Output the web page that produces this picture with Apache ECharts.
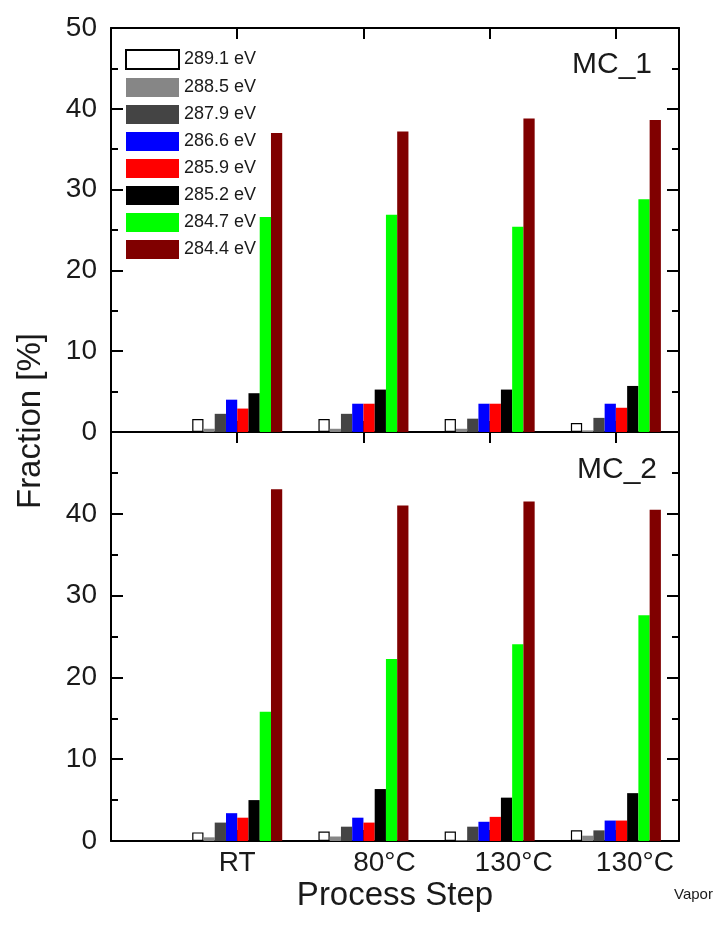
<!DOCTYPE html>
<html>
<head>
<meta charset="utf-8">
<script src="https://cdn.jsdelivr.net/npm/echarts@6/dist/echarts.min.js"></script>
<style>
  html, body { margin: 0; padding: 0; background: #ffffff; }
  #chart { width: 718px; height: 925px; }
</style>
</head>
<body>
<div id="chart"></div>
<script>
// Binding-energy components (legend order)
const energies = ['289.1 eV', '288.5 eV', '287.9 eV', '286.6 eV', '285.9 eV', '285.2 eV', '284.7 eV', '284.4 eV'];

// Process steps on the x axis
const steps = ['RT', '80°C', '130°C', '130°C'];
const stepSubs = ['', '', '', 'Vapor'];
const stepPos = [1, 2, 3, 4];

// MC_1 fractions [%] per component, one value per process step
const mc1_2891 = [1.6, 1.6, 1.6, 1.1];
const mc1_2885 = [0.4, 0.4, 0.4, 0.2];
const mc1_2879 = [2.25, 2.25, 1.65, 1.75];
const mc1_2866 = [4.0, 3.5, 3.5, 3.5];
const mc1_2859 = [2.9, 3.5, 3.5, 3.0];
const mc1_2852 = [4.8, 5.25, 5.25, 5.7];
const mc1_2847 = [26.6, 26.9, 25.4, 28.8];
const mc1_2844 = [37.0, 37.2, 38.8, 38.6];

// MC_2 fractions [%]
const mc2_2891 = [1.05, 1.15, 1.15, 1.3];
const mc2_2885 = [0.45, 0.55, 0.1, 0.65];
const mc2_2879 = [2.25, 1.75, 1.75, 1.3];
const mc2_2866 = [3.4, 2.85, 2.35, 2.5];
const mc2_2859 = [2.85, 2.25, 2.95, 2.5];
const mc2_2852 = [5.0, 6.35, 5.3, 5.85];
const mc2_2847 = [15.8, 22.25, 24.05, 27.6];
const mc2_2844 = [43.0, 41.0, 41.5, 40.5];

const mc1Sets = [mc1_2891, mc1_2885, mc1_2879, mc1_2866, mc1_2859, mc1_2852, mc1_2847, mc1_2844];
const mc2Sets = [mc2_2891, mc2_2885, mc2_2879, mc2_2866, mc2_2859, mc2_2852, mc2_2847, mc2_2844];

const barColors = ['#ffffff', '#868686', '#444444', '#0000ff', '#ff0000', '#000000', '#00ff00', '#800000'];

const FONT = '"Liberation Sans", Arial, sans-serif';
const INK = '#1a1a1a';

// horizontal shift of each step name relative to its tick, given as left padding (px)
const labelPad = [0, 42, 48, 77];

const axisLine = { show: true, onZero: false, lineStyle: { color: '#000', width: 2 } };

function xAxisFor(gridIndex, position, showLabels) {
  return {
    type: 'value', gridIndex, position,
    min: 0, max: 4.5, interval: 1,
    axisLine,
    axisTick: { show: true, inside: true, length: 11, lineStyle: { color: '#000', width: 2 } },
    splitLine: { show: false },
    axisLabel: showLabels ? {
      show: true, margin: 8, color: INK, fontFamily: FONT, fontSize: 28,
      formatter: function (v) {
        const k = stepPos.indexOf(v);
        if (k < 0) return '';
        let s = '{m' + k + '|' + steps[k] + '}';
        if (stepSubs[k]) s += '{s|' + stepSubs[k] + '}';
        return s;
      },
      rich: {
        m0: { fontSize: 28, fontFamily: FONT, color: INK, verticalAlign: 'top', padding: [0, 0, 0, labelPad[0]] },
        m1: { fontSize: 28, fontFamily: FONT, color: INK, verticalAlign: 'top', padding: [0, 0, 0, labelPad[1]] },
        m2: { fontSize: 28, fontFamily: FONT, color: INK, verticalAlign: 'top', padding: [0, 0, 0, labelPad[2]] },
        m3: { fontSize: 28, fontFamily: FONT, color: INK, verticalAlign: 'top', padding: [0, 0, 0, labelPad[3]] },
        s: { fontSize: 15, fontFamily: FONT, color: INK, verticalAlign: 'top', padding: [38, 0, 0, 0] }
      }
    } : { show: false }
  };
}

function yAxisFor(gridIndex, position, labelFormatter) {
  return {
    type: 'value', gridIndex, position,
    min: 0, max: 50, interval: 10,
    axisLine,
    axisTick: { show: true, inside: true, length: 12, lineStyle: { color: '#000', width: 2 } },
    minorTick: { show: true, splitNumber: 2, length: 7, lineStyle: { color: '#000', width: 2 } },
    splitLine: { show: false },
    minorSplitLine: { show: false },
    axisLabel: labelFormatter ? {
      show: true, margin: 14, color: INK, fontFamily: FONT, fontSize: 28, formatter: labelFormatter
    } : { show: false }
  };
}

function makeSeries(values, i, panel) {
  return {
    type: 'bar',
    name: energies[i],
    xAxisIndex: panel * 2,
    yAxisIndex: panel * 2,
    data: values.map((v, k) => [stepPos[k], v]),
    barWidth: 11.25,
    barGap: '0%',
    silent: true,
    itemStyle: {
      color: barColors[i],
      borderColor: i === 0 ? '#000000' : barColors[i],
      borderWidth: i === 0 ? 1.2 : 0
    }
  };
}

const series = [];
mc1Sets.forEach((vals, i) => series.push(makeSeries(vals, i, 0)));
mc2Sets.forEach((vals, i) => series.push(makeSeries(vals, i, 1)));

const chart = echarts.init(document.getElementById('chart'), null, { renderer: 'canvas' });

chart.setOption({
  animation: false,
  backgroundColor: '#ffffff',
  textStyle: { fontFamily: FONT },
  grid: [
    { left: 111, right: 39, top: 28, height: 404 },
    { left: 111, right: 39, top: 432, height: 409 }
  ],
  xAxis: [
    xAxisFor(0, 'bottom', false),
    xAxisFor(0, 'top', false),
    Object.assign(xAxisFor(1, 'bottom', true), {
      name: 'Process Step', nameLocation: 'middle', nameGap: 38, nameMoveOverlap: false,
      nameTextStyle: { fontSize: 33, fontFamily: FONT, color: INK }
    }),
    xAxisFor(1, 'top', false)
  ],
  yAxis: [
    yAxisFor(0, 'left', v => String(v)),
    yAxisFor(0, 'right', null),
    yAxisFor(1, 'left', v => (v === 50 ? '' : String(v))),
    yAxisFor(1, 'right', null)
  ],
  legend: {
    data: energies,
    orient: 'vertical',
    left: 125, top: 49, padding: 0,
    itemWidth: 53, itemHeight: 19, itemGap: 8,
    icon: 'rect',
    selectedMode: false,
    textStyle: { fontSize: 18, fontFamily: FONT, color: INK }
  },
  graphic: [
    { type: 'text', right: 66, top: 50, silent: true,
      style: { text: 'MC_1', font: '30px ' + FONT, fill: INK } },
    { type: 'text', right: 61, top: 455, silent: true,
      style: { text: 'MC_2', font: '30px ' + FONT, fill: INK } },
    { type: 'text', x: 31, y: 421, rotation: Math.PI / 2, silent: true,
      style: { text: 'Fraction [%]', font: '33px ' + FONT, fill: INK, align: 'center', verticalAlign: 'middle' } }
  ],
  series
});
</script>
</body>
</html>
